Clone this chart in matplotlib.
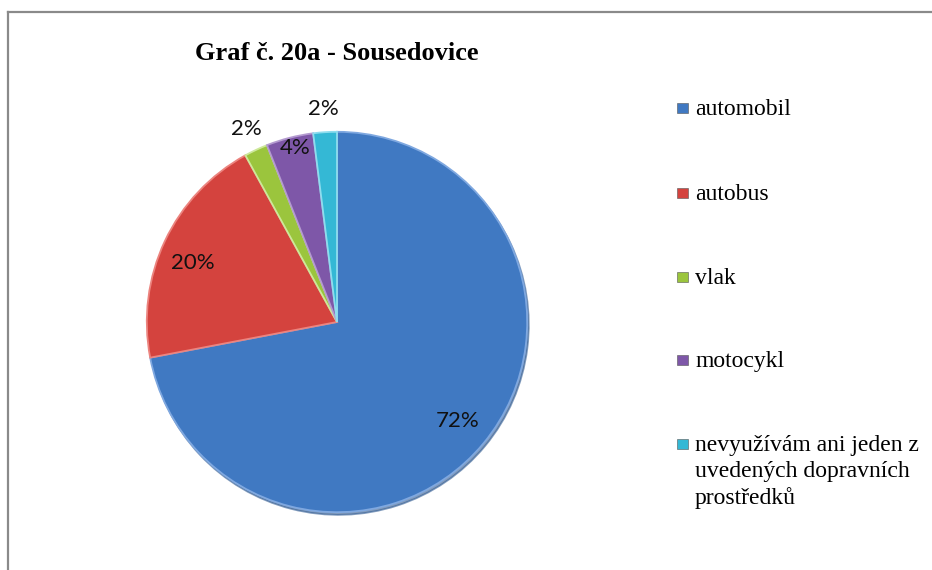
import matplotlib.pyplot as plt
import numpy as np
from matplotlib.patches import Rectangle
from matplotlib.lines import Line2D

# data
categories = ["automobil", "autobus", "vlak", "motocykl",
              "nevyužívám ani jeden z\nuvedených dopravních\nprostředků"]
values = [72, 20, 2, 4, 2]
pct_labels = ["72%", "20%", "2%", "4%", "2%"]

colors = ["#4079C2", "#D4433E", "#9BC53D", "#7E57A8", "#34B8D5"]
edges = ["#7FA8E0", "#EC847F", "#CDE89A", "#B49AD0", "#8EDDEE"]
# label distance from center (fraction of radius) and small angle shift (deg)
lab_r = [0.82, 0.82, 1.12, 0.94, 1.12]
lab_shift = [0, 3, 0, -1, 0]

W, H = 932, 570
fig = plt.figure(figsize=(W / 100, H / 100), dpi=100)

# frame lines (top + left)
fig.add_artist(Line2D([8 / W, 1], [1 - 11.5 / H, 1 - 11.5 / H], color="#8A8A8A", lw=1.6))
fig.add_artist(Line2D([8 / W, 8 / W], [0, 1 - 11.5 / H], color="#8A8A8A", lw=1.6))

cx, cy, r = 337, 322, 194
ax = fig.add_axes([(cx - r) / W, (H - cy - r) / H, 2 * r / W, 2 * r / H])
wedges, _ = ax.pie(values, colors=colors, startangle=90, counterclock=False,
                   radius=1, wedgeprops=dict(linewidth=1.3),
                   shadow=dict(ox=0.006, oy=-0.01, shade=0.25, alpha=0.6))
for w, ec in zip(wedges, edges):
    w.set_edgecolor(ec)
ax.set_xlim(-1.02, 1.02)
ax.set_ylim(-1.02, 1.02)
ax.set_aspect("equal")
ax.axis("off")

for w, lab, rr, sh in zip(wedges, pct_labels, lab_r, lab_shift):
    ang = np.deg2rad((w.theta1 + w.theta2) / 2 + sh)
    ax.text(rr * np.cos(ang), rr * np.sin(ang), lab, ha="center", va="center",
            fontsize=16, family="Lato", color="#111111")

fig.text(cx / W, 1 - 53 / H, "Graf č. 20a - Sousedovice", ha="center", va="center",
         fontsize=19, fontweight="bold", family="Liberation Serif")

# legend
leg_y = [108, 193, 277, 360, 444]
for yy, cat, col in zip(leg_y, categories, colors):
    fig.add_artist(Rectangle(((682 - 5.5) / W, 1 - (yy + 5) / H), 11 / W, 10 / H,
                             facecolor=col, edgecolor="#555555", lw=0.4))
    fig.text(695 / W, 1 - (yy - 9) / H, cat, ha="left", va="top",
             fontsize=17, family="Liberation Serif", linespacing=1.31)

plt.savefig("out.png", dpi=100)
plt.close()
